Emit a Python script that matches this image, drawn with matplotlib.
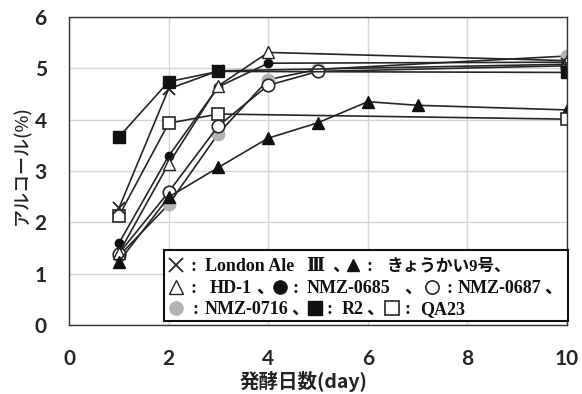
import matplotlib
matplotlib.use("Agg")

import matplotlib.pyplot as plt
from matplotlib.lines import Line2D
from matplotlib.patches import Rectangle

# =========================
# DATA
# =========================

days_short = [1, 2, 3, 10]
days_kyokai = [1, 2, 3, 4, 5, 6, 7, 10]
days_long = [1, 2, 3, 4, 10]
days_five = [1, 2, 3, 4, 5, 10]

london = [2.27, 4.60, 4.95, 5.08]
kyokai9 = [1.23, 2.49, 3.07, 3.64, 3.94, 4.35, 4.28, 4.19]
hd1 = [1.40, 3.14, 4.66, 5.31, 5.15]
nmz0685 = [1.59, 3.29, 4.64, 5.10, 5.12]
nmz0687 = [1.39, 2.59, 3.88, 4.67, 4.94, 5.05]
nmz0716 = [1.34, 2.35, 3.73, 4.78, 4.98, 5.24]
r2 = [3.66, 4.74, 4.94, 4.92]
qa23 = [2.12, 3.93, 4.11, 4.01]

line_color = "#262626"
dark = "#111111"
grey = "#b3b3b3"

W, H = 582, 394

# =========================
# FIGURE
# =========================

fig = plt.figure(figsize=(W / 100, H / 100), dpi=100)
ax = fig.add_axes([69 / W, 1 - 325 / H, 498 / W, 308 / H])

common = dict(color=line_color, linewidth=1.2)

# marker styles (shared with the legend box)
sty_0716 = dict(marker="o", markersize=9, markerfacecolor=grey, markeredgecolor=grey)
sty_0687 = dict(marker="o", markersize=9, markerfacecolor="white",
                markeredgecolor=line_color, markeredgewidth=1.2)
sty_0685 = dict(marker="o", markersize=6, markerfacecolor=dark, markeredgecolor=dark)
sty_hd1 = dict(marker="^", markersize=9, markerfacecolor="white",
               markeredgecolor=line_color, markeredgewidth=1.0)
sty_k9 = dict(marker="^", markersize=8, markerfacecolor=dark, markeredgecolor=dark)
sty_qa23 = dict(marker="s", markersize=9, markerfacecolor="white",
                markeredgecolor=line_color, markeredgewidth=1.2)
sty_london = dict(marker="x", markersize=9, markeredgewidth=1.3, markeredgecolor=line_color)
sty_r2 = dict(marker="s", markersize=9, markerfacecolor=dark, markeredgecolor=dark)

ax.plot(days_five, nmz0716, **sty_0716, **common)
ax.plot(days_five, nmz0687, **sty_0687, **common)
ax.plot(days_long, nmz0685, **sty_0685, **common)
ax.plot(days_long, hd1, **sty_hd1, **common)
ax.plot(days_kyokai, kyokai9, **sty_k9, **common)
ax.plot(days_short, qa23, **sty_qa23, **common)
ax.plot(days_short, london, **sty_london, **common)
ax.plot(days_short, r2, **sty_r2, **common)

ax.set_xlim(0, 10)
ax.set_ylim(0, 6)
ax.set_xticks([0, 2, 4, 6, 8, 10])
ax.set_yticks([0, 1, 2, 3, 4, 5, 6])
ax.grid(True, color="#d4d4d4", linewidth=1.0)
ax.set_axisbelow(True)
ax.tick_params(length=0)
ax.tick_params(axis="x", pad=17)
ax.tick_params(axis="y", pad=16)
for lab in ax.get_xticklabels() + ax.get_yticklabels():
    lab.set_family(["Lato", "DejaVu Sans"])
    lab.set_fontsize(15)
    lab.set_fontweight("bold")
    lab.set_color("#262626")
for sp in ax.spines.values():
    sp.set_color("#333333")
    sp.set_linewidth(1.0)

cjk = ["Noto Sans CJK JP", "DejaVu Sans"]
fig.text(304 / W, 1 - 381 / H, "発酵日数(day)", family=cjk, fontsize=14,
         fontweight="bold", ha="center", va="center", color="#222222")
fig.text(22 / W, 1 - 165 / H, "アルコール(%)", family=cjk, fontsize=13,
         fontweight="medium", rotation=90, ha="center", va="center", color="#222222")

# =========================
# LEGEND BOX
# =========================

box = Rectangle((164 / W, 1 - 321 / H), 404 / W, 71 / H,
                transform=fig.transFigure, facecolor="white",
                edgecolor=dark, linewidth=1.5, zorder=5)
fig.patches.append(box)

serif = ["Liberation Serif", "Noto Sans CJK JP", "DejaVu Sans"]
roman = ["DejaVu Serif", "Noto Sans CJK JP"]
leg_kw = dict(family=serif, fontsize=13, fontweight="bold", color=dark,
              va="baseline", ha="left", zorder=6)

# (x pixel, text or marker style) for each legend row, row centre y in pixels
legend_rows = [
    (265, [(176, sty_london), (190, ":"), (205, "London Ale"), (306, "Ⅲ"), (332, "、"),
           (353, sty_k9), (366, ":"), (387, "きょうかい9号、")]),
    (287, [(176, sty_hd1), (190, ":"), (210, "HD-1"), (256, "、"), (280, sty_0685),
           (293, ":"), (307, "NMZ-0685"), (404, "、"), (432, sty_0687),
           (447, ":"), (458, "NMZ-0687"), (544, "、")]),
    (308, [(176, sty_0716), (192, ":"), (205, "NMZ-0716"), (291, "、"), (315, sty_r2),
           (327, ":"), (342, "R2"), (366, "、"), (392, sty_qa23), (404, ":"),
           (420, "QA23")]),
]

for yc, items in legend_rows:
    for xp, item in items:
        if isinstance(item, dict):
            st = dict(item)
            if st["marker"] == "o" and st["markersize"] < 8:
                st["markersize"] = 9
            st["markersize"] = st["markersize"] + 0.5
            mk = Line2D([xp / W], [1 - yc / H], transform=fig.transFigure,
                        linestyle="none", zorder=6, **st)
            fig.add_artist(mk)
        elif item == "Ⅲ":
            fig.text(xp / W, 1 - (yc + 6) / H, item, **{**leg_kw, "family": roman})
        elif item.startswith("きょう"):
            fig.text(xp / W, 1 - (yc + 6) / H, item, **{**leg_kw, "fontsize": 12})
        else:
            fig.text(xp / W, 1 - (yc + 6) / H, item, **leg_kw)

fig.savefig("out.png", dpi=100)
